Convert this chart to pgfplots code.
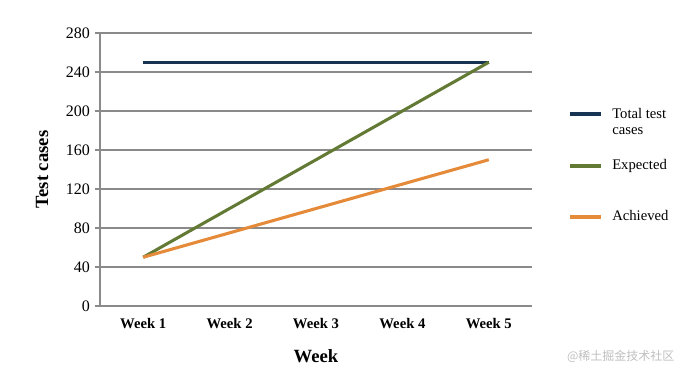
\documentclass[border=0pt]{standalone}
\usepackage{pgfplots}
\pgfplotsset{compat=1.18}
\usepackage{fontspec}
\setmainfont{Liberation Serif}
\newfontfamily\cjk{Noto Sans CJK SC}
\definecolor{cnavy}{HTML}{173453}
\definecolor{cgreen}{HTML}{637A35}
\definecolor{corange}{HTML}{E48A38}
\definecolor{cgrid}{HTML}{8A8A8A}
\begin{document}
\begin{tikzpicture}
\useasboundingbox (-75pt,-50.25pt) rectangle (435pt,229.5pt);
\begin{axis}[
  at={(0,0)}, anchor=south west,
  scale only axis,
  width=324pt, height=204.75pt,
  xmin=-0.5, xmax=4.5,
  ymin=0, ymax=280,
  ytick={0,40,...,280},
  xtick={0,1,2,3,4},
  xticklabels={Week 1,Week 2,Week 3,Week 4,Week 5},
  x tick label style={font=\bfseries\fontsize{11}{12}\selectfont, yshift=-2pt},
  y tick label style={font=\fontsize{12}{13}\selectfont},
  /pgf/number format/assume math mode=true,
  axis lines*=left,
  axis line style={-, draw=cgrid, line width=1.4pt},
  tick align=outside,
  major tick length=4pt,
  tick style={draw=cgrid, line width=1.1pt},
  x tick style={draw=none},
  extra x ticks={-0.5,0.5,1.5,2.5,3.5,4.5},
  extra x tick labels={},
  extra x tick style={grid=none, major tick length=3pt, tick style={draw=cgrid, line width=1.1pt}},
  ymajorgrids,
  grid style={draw=cgrid, line width=1.1pt},
  xlabel={Week},
  ylabel={Test cases},
  xlabel style={at={(axis description cs:0.5,0)}, anchor=center, yshift=-37.5pt, font=\bfseries\fontsize{14}{16}\selectfont},
  ylabel style={at={(axis description cs:0,0.5)}, anchor=center, yshift=43.5pt, font=\bfseries\fontsize{14}{16}\selectfont},
  clip=false,
]
\addplot[cnavy, line width=2.3pt, no marks] coordinates {(0,250) (1,250) (2,250) (3,250) (4,250)};
\addplot[cgreen, line width=2.3pt, no marks] coordinates {(0,50) (1,100) (2,150) (3,200) (4,250)};
\addplot[corange, line width=2.3pt, no marks] coordinates {(0,50) (1,75) (2,100) (3,125) (4,150)};
\end{axis}
% legend
\draw[cnavy, line width=2.3pt] (352.5pt,144pt) -- (375.75pt,144pt);
\node[anchor=base west, inner sep=0pt, font=\fontsize{11}{12}\selectfont] at (384pt,140.25pt) {Total test};
\node[anchor=base west, inner sep=0pt, font=\fontsize{11}{12}\selectfont] at (384pt,128.25pt) {cases};
\draw[cgreen, line width=2.3pt] (352.5pt,105pt) -- (375.75pt,105pt);
\node[anchor=base west, inner sep=0pt, font=\fontsize{11}{12}\selectfont] at (384pt,102pt) {Expected};
\draw[corange, line width=2.3pt] (352.5pt,66.75pt) -- (375.75pt,66.75pt);
\node[anchor=base west, inner sep=0pt, font=\fontsize{11}{12}\selectfont] at (384pt,63.75pt) {Achieved};
% watermark
\node[anchor=east, inner sep=0pt, text=black!25, font=\cjk\fontsize{9}{10}\selectfont] at (431pt,-38pt) {@稀土掘金技术社区};
\end{tikzpicture}
\end{document}
